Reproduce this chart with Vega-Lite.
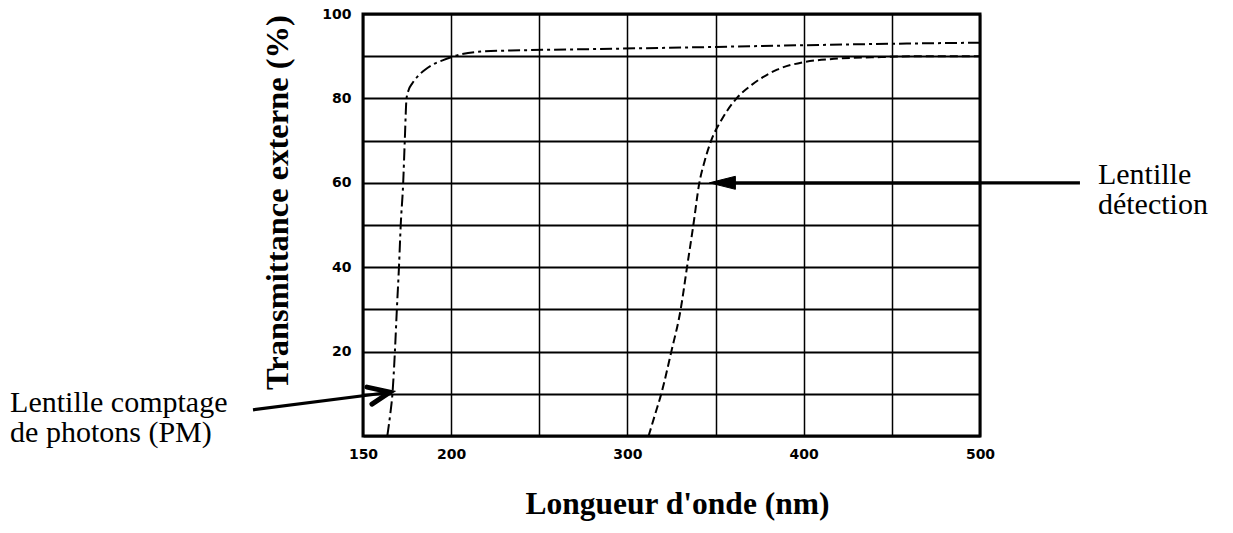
{
  "$schema": "https://vega.github.io/schema/vega-lite/v6.json",
  "width": 617,
  "height": 422,
  "autosize": {"type": "none"},
  "padding": {"left": 363, "top": 14, "right": 253, "bottom": 97},
  "background": "white",
  "config": {
    "view": {"stroke": "black", "strokeWidth": 3},
    "axis": {
      "grid": true,
      "gridColor": "black",
      "gridOpacity": 1,
      "ticks": false,
      "domain": false,
      "labelFont": "DejaVu Sans",
      "labelFontWeight": "bold",
      "labelFontSize": 14,
      "labelColor": "black",
      "labelFlush": false,
      "labelOverlap": false,
      "labelBound": false,
      "titleFont": "Liberation Serif",
      "titleFontWeight": "bold",
      "titleFontSize": 31.5,
      "titleColor": "black"
    }
  },
  "datasets": {
    "curves": [
      {"series": "PM", "x": 163.8, "y": 0},
      {"series": "PM", "x": 165.4, "y": 5},
      {"series": "PM", "x": 166.7, "y": 10},
      {"series": "PM", "x": 168.1, "y": 20},
      {"series": "PM", "x": 169.2, "y": 30},
      {"series": "PM", "x": 170.4, "y": 40},
      {"series": "PM", "x": 171.4, "y": 50},
      {"series": "PM", "x": 172.8, "y": 60},
      {"series": "PM", "x": 173.7, "y": 70},
      {"series": "PM", "x": 174.7, "y": 80},
      {"series": "PM", "x": 175.9, "y": 82},
      {"series": "PM", "x": 178.0, "y": 83.6},
      {"series": "PM", "x": 181.0, "y": 85.2},
      {"series": "PM", "x": 185.2, "y": 86.8},
      {"series": "PM", "x": 190.0, "y": 88.1},
      {"series": "PM", "x": 195.1, "y": 89.0},
      {"series": "PM", "x": 205.2, "y": 90.4},
      {"series": "PM", "x": 216.9, "y": 91.1},
      {"series": "PM", "x": 240.0, "y": 91.4},
      {"series": "PM", "x": 283.0, "y": 91.7},
      {"series": "PM", "x": 350.0, "y": 92.2},
      {"series": "PM", "x": 400.0, "y": 92.6},
      {"series": "PM", "x": 450.0, "y": 92.95},
      {"series": "PM", "x": 500.0, "y": 93.2},
      {"series": "det", "x": 312.0, "y": 0},
      {"series": "det", "x": 315.6, "y": 5},
      {"series": "det", "x": 319.2, "y": 10},
      {"series": "det", "x": 324.9, "y": 20},
      {"series": "det", "x": 330.2, "y": 30},
      {"series": "det", "x": 333.8, "y": 40},
      {"series": "det", "x": 337.4, "y": 50},
      {"series": "det", "x": 340.8, "y": 60},
      {"series": "det", "x": 343.7, "y": 65},
      {"series": "det", "x": 347.5, "y": 70},
      {"series": "det", "x": 353.5, "y": 75},
      {"series": "det", "x": 361.9, "y": 80},
      {"series": "det", "x": 370.5, "y": 83.2},
      {"series": "det", "x": 384.9, "y": 86.8},
      {"series": "det", "x": 400.0, "y": 88.6},
      {"series": "det", "x": 414.9, "y": 89.3},
      {"series": "det", "x": 444.0, "y": 89.8},
      {"series": "det", "x": 470.0, "y": 90},
      {"series": "det", "x": 500.0, "y": 90}
    ],
    "arrows": [
      {"x": 87.6, "y": 6.2, "x2": 164.5, "y2": 10.3},
      {"x": 350, "y": 60, "x2": 556.7, "y2": 60}
    ],
    "headLeft": [{"x": 165.3, "y": 10.4}],
    "headRight": [{"x": 346.5, "y": 60}],
    "labels": [
      {"x": -50.2, "y": 5.57, "label": ["Lentille comptage", "de photons (PM)"]},
      {"x": 566.9, "y": 59.67, "label": ["Lentille", "détection"]}
    ]
  },
  "encoding": {
    "x": {
      "field": "x",
      "type": "quantitative",
      "scale": {"domain": [150, 500], "nice": false, "zero": false},
      "axis": {
        "values": [150, 200, 250, 300, 350, 400, 450, 500],
        "labelExpr": "(datum.value == 150 || datum.value % 100 == 0) ? datum.label : ''",
        "gridWidth": 1.5,
        "labelPadding": 11,
        "title": "Longueur d'onde (nm)",
        "titleX": 314,
        "titleY": 77,
        "titleAlign": "center",
        "titleBaseline": "alphabetic"
      }
    },
    "y": {
      "field": "y",
      "type": "quantitative",
      "scale": {"domain": [0, 100], "nice": false, "zero": false},
      "axis": {
        "values": [0, 10, 20, 30, 40, 50, 60, 70, 80, 90, 100],
        "labelExpr": "(datum.value > 0 && datum.value % 20 == 0) ? datum.label : ''",
        "gridWidth": 2,
        "labelPadding": 12,
        "title": "Transmittance externe (%)",
        "titleAngle": -90,
        "titleFontSize": 32.5,
        "titleX": -76,
        "titleY": 188,
        "titleAlign": "center",
        "titleBaseline": "alphabetic"
      }
    }
  },
  "layer": [
    {
      "data": {"name": "curves"},
      "mark": {"type": "line", "color": "black", "strokeWidth": 2, "interpolate": "monotone"},
      "encoding": {
        "detail": {"field": "series", "type": "nominal"},
        "strokeDash": {
          "field": "series",
          "type": "nominal",
          "scale": {"domain": ["PM", "det"], "range": [[12, 4, 3, 4], [8, 4]]},
          "legend": null
        }
      }
    },
    {
      "data": {"name": "arrows"},
      "mark": {"type": "rule", "color": "black", "strokeWidth": 3.2},
      "encoding": {
        "x2": {"field": "x2"},
        "y2": {"field": "y2"}
      }
    },
    {
      "data": {"name": "headLeft"},
      "mark": {
        "type": "point",
        "shape": "M -2.3 -0.5 L 0 0 L -1.8 1.2",
        "size": 400,
        "filled": false,
        "stroke": "black",
        "strokeWidth": 5,
        "strokeJoin": "miter",
        "strokeCap": "round",
        "opacity": 1
      }
    },
    {
      "data": {"name": "headRight"},
      "mark": {
        "type": "point",
        "shape": "M 0 0 L 2 -0.5 L 2 0.5 Z",
        "size": 676,
        "filled": true,
        "fill": "black",
        "stroke": "black",
        "strokeWidth": 1,
        "opacity": 1
      }
    },
    {
      "data": {"name": "labels"},
      "mark": {
        "type": "text",
        "align": "left",
        "baseline": "alphabetic",
        "font": "Liberation Serif",
        "fontSize": 30,
        "lineHeight": 30,
        "color": "black"
      },
      "encoding": {
        "text": {"field": "label", "type": "nominal"}
      }
    }
  ]
}
